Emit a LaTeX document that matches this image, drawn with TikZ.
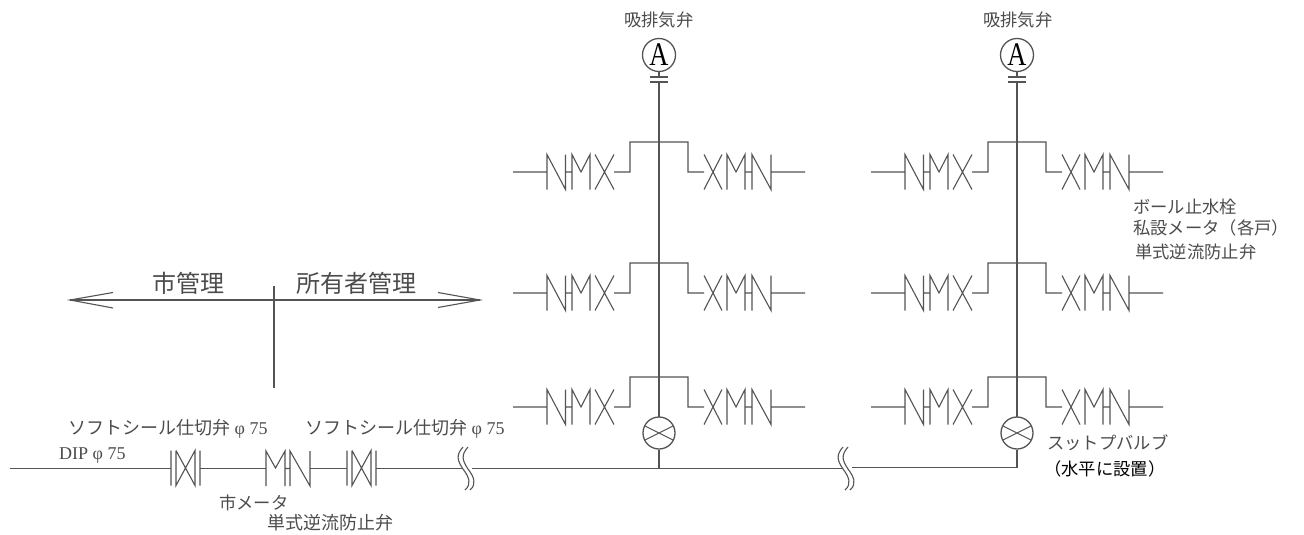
\documentclass[tikz,border=0pt]{standalone}
\usetikzlibrary{calc}
\usepackage{fontspec}
\setmainfont{Liberation Serif}
\newfontfamily\cjk{Noto Sans CJK JP}
\definecolor{ink}{gray}{0.33}
\definecolor{txt}{gray}{0.3}
\tikzset{
  pipe/.style={draw=ink,line width=1.1pt},
  lab/.style={inner sep=0pt,anchor=west,text=txt,font=\cjk\fontsize{17.3}{17.3}\selectfont},
  labw/.style={lab,font=\cjk\fontsize{18}{18}\selectfont},
  big/.style={inner sep=0pt,anchor=west,text=txt,font=\cjk\fontsize{24}{24}\selectfont},
  circ/.style={circle,draw=ink,line width=1.3pt,minimum size=33pt,inner sep=0pt,fill=white},
  arrowline/.style={draw=ink,line width=1.1pt},
}
\newcommand{\lat}[1]{{\rmfamily\fontsize{18}{18}\selectfont #1}}
% paired branch at (cx, y)
\newcommand{\branchrow}[2]{%
  \begin{scope}[shift={(#1,#2)}]
    \draw[pipe] (-146,0) -- (-112,0) (-112,17.5) -- (-112,-17.5) -- (-93.5,17.5) -- (-93.5,-17.5)
      (-93.5,0) -- (-87,0)
      (-87,17.5) -- (-87,-17.5) -- (-78,0) -- (-69,-17.5) -- (-69,17.5)
      (-64,-17.5) -- (-45,17.5) (-64,17.5) -- (-45,-17.5)
      (-45,0) -- (-29,0) -- (-29,-30) -- (29,-30) -- (29,0) -- (45,0)
      (45,-17.5) -- (63,17.5) (45,17.5) -- (63,-17.5)
      (68,17.5) -- (68,-17.5) -- (77,0) -- (86,-17.5) -- (86,17.5)
      (86,0) -- (93,0)
      (93,17.5) -- (93,-17.5) -- (112,17.5) -- (112,-17.5)
      (112,0) -- (146,0);
  \end{scope}}
\newcommand{\breakmark}[2]{%
  \begin{scope}[shift={(#1,#2)}]
    \draw[pipe] (-3,-21) .. controls (-10,-13) and (-9,-8) .. (-3,1) .. controls (3,9) and (6,16) .. (-1,22);
    \draw[pipe] (2,-21) .. controls (-5,-13) and (-4,-8) .. (2,1) .. controls (8,9) and (11,16) .. (4,22);
  \end{scope}}
\newcommand{\gatevalve}[2]{%
  \begin{scope}[shift={(#1,#2)}]
    \draw[pipe] (-15,-17.5) -- (-15,17.5) (-10,-17.5) -- (-10,17.5) -- (9,-17.5) -- (9,17.5) -- (-10,-17.5)
      (14,-17.5) -- (14,17.5);
  \end{scope}}
\newcommand{\bigA}{\scalebox{0.8}[1]{\fontsize{33}{33}\selectfont A}}
\begin{document}
\begin{tikzpicture}[x=1pt,y=-1pt]
\useasboundingbox (0,0) rectangle (1304,535);
\fill[white] (0,0) rectangle (1304,535);
% risers
\foreach \cx in {659,1017}{
  \branchrow{\cx}{172}\branchrow{\cx}{293}\branchrow{\cx}{407}
  \draw[pipe] (\cx,82) -- (\cx,417);
  \draw[pipe] (\cx,72) -- (\cx,77);
  \draw[pipe] (\cx-9,77) -- (\cx+9,77) (\cx-9,82) -- (\cx+9,82);
}
% air valves
\node[circ,text=black] (airA) at (659,55) {\bigA};
\node[circ,text=black] (airB) at (1017,55) {\bigA};
% stop valves
\node[circ,minimum size=32pt] (stopA) at (659,433) {};
\node[circ,minimum size=32pt] (stopB) at (1017,433) {};
\foreach \n in {stopA,stopB}{
  \draw[pipe] ($(\n.center)+(-14,-7)$) -- ($(\n.center)+(14,7)$) ($(\n.center)+(-14,7)$) -- ($(\n.center)+(14,-7)$);
}
\coordinate (junA) at (659,468.5);
\coordinate (junB) at (1017,467.5);
\coordinate (start) at (10,468.5);
\draw[pipe] (stopA) -- (junA);
\draw[pipe] (stopB) -- (junB);
% main pipe
\draw[pipe] (start) -- (171,468.5) (200,468.5) -- (266,468.5) (310,468.5) -- (347,468.5) (376,468.5) -- (463,468.5);
\draw[pipe] (472,468.5) -- (junA) -- (843,468.5) (852,467.5) -- (junB);
\gatevalve{186}{468}
\gatevalve{362}{468}
\draw[pipe] (266,486) -- (266,451) -- (275.5,468) -- (285,451) -- (285,486)
  (285,468.5) -- (290,468.5) (290,486) -- (290,451) -- (310,486) -- (310,451);
\breakmark{466}{468}
\breakmark{846}{468}
% division mark
\coordinate (arrL) at (70,300);
\coordinate (arrR) at (480,300);
\coordinate (divT) at (274,286);
\coordinate (divB) at (274,388);
\draw[arrowline] (arrL) -- (arrR);
\draw[arrowline] (divT) -- (divB);
\draw[arrowline] (113,292.5) -- (arrL) -- (113,308);
\draw[arrowline] (438,292.5) -- (arrR) -- (438,307.5);
% labels
\node[big] (t1) at (152,283) {市管理};
\node[big] (t2) at (296,283) {所有者管理};
\node[lab] (t3) at (624,20) {吸排気弁};
\node[lab] (t4) at (983,20) {吸排気弁};
\node[labw] (t5) at (68,429) {ソフトシール仕切弁\lat{ φ 75}};
\node[labw] (t6) at (305,429) {ソフトシール仕切弁\lat{ φ 75}};
\node[lab] (t7) at (59,456) {\lat{DIP φ 75}};
\node[lab] (t8) at (219,503) {市メータ};
\node[labw] (t9) at (267,523) {単式逆流防止弁};
\node[lab] (t10) at (1047,443) {スットプバルブ};
\node[lab,text=black] (t11) at (1044,469) {（水平に設置）};
\node[lab] (t12) at (1133,207) {ボール止水栓};
\node[lab] (t13) at (1133,228) {私設メータ（各戸）};
\node[lab] (t14) at (1135,252) {単式逆流防止弁};
\end{tikzpicture}
\end{document}
